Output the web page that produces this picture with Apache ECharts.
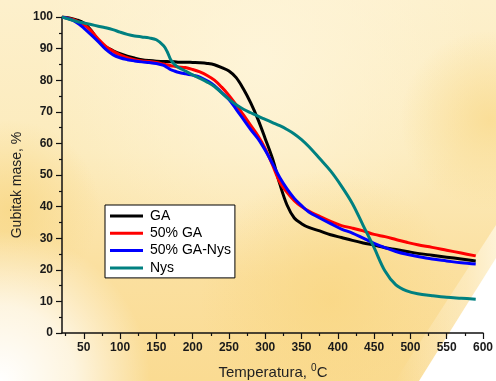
<!DOCTYPE html>
<html>
<head>
<meta charset="utf-8">
<style>
html,body{margin:0;padding:0;}
#c{width:496px;height:381px;}
</style>
<script src="https://cdn.jsdelivr.net/npm/echarts@6/dist/echarts.min.js"></script>
</head>
<body>
<div id="c"></div>
<script>
const temps = [20,30,40,50,60,70,80,90,100,110,120,130,140,150,160,165,170,175,180,190,200,210,220,230,240,250,260,270,280,290,300,310,320,330,340,350,360,375,390,405,420,435,450,465,480,495,510,530,550,570,590];
const seriesNames = ['GA', '50% GA', '50% GA-Nys', 'Nys'];
const massGA = [100,99.7,99.1,98.1,95.8,92.6,90.6,89.4,88.4,87.6,87.0,86.5,86.2,86.0,85.9,85.9,85.8,85.8,85.7,85.7,85.6,85.5,85.3,84.9,84.0,82.9,80.8,77.2,72.8,67.6,61.5,55.2,47.2,40.5,36.4,34.6,33.4,32.3,31.1,30.2,29.3,28.5,27.8,27.0,26.4,25.8,25.2,24.6,24.0,23.4,22.8];
const mass50GA = [100,99.5,98.8,97.6,95.6,93.0,90.8,89.2,88.0,87.1,86.5,86.1,85.9,85.6,85.1,84.9,84.6,84.4,84.2,84.0,83.4,82.6,81.5,80.0,77.8,75.2,72.2,69.0,65.7,62.4,58.3,53.2,47.8,44.5,41.9,40.0,38.6,36.9,35.3,34.0,33.2,32.3,31.2,30.5,29.6,28.7,27.9,27.1,26.2,25.3,24.4];
const mass50GANys = [100,99.4,98.3,96.5,94.4,92.2,89.8,88.1,87.1,86.5,86.1,85.8,85.6,85.3,84.7,84.0,83.3,82.9,82.5,82.0,81.6,81.0,79.8,78.3,76.1,73.9,70.8,67.6,64.4,61.5,57.8,53.6,49.2,45.6,42.6,40.3,38.3,36.4,34.6,32.9,31.6,30.0,28.4,27.0,25.8,24.9,24.2,23.4,22.8,22.2,21.8];
const massNys = [100,99.3,98.6,98.1,97.6,97.1,96.6,96.0,95.2,94.5,94.0,93.7,93.4,92.8,90.9,89.0,86.4,85.0,84.1,82.9,81.7,80.6,79.4,78.0,76.0,74.0,72.2,70.8,69.7,68.6,67.6,66.6,65.6,64.4,63.0,61.2,59.0,55.2,51.3,46.5,41.0,34.0,27.0,19.6,15.2,13.3,12.4,11.8,11.3,11.0,10.7];
const xMajorTicks = [50,100,150,200,250,300,350,400,450,500,550,600];
const xMinorTicks = [25,75,125,175,225,275,325,375,425,475,525,575];
const colors = ['#000000', '#ff0000', '#0000ff', '#008080'];

const massSets = [massGA, mass50GA, mass50GANys, massNys];
const font = 'Liberation Sans, Arial, sans-serif';

const chart = echarts.init(document.getElementById('c'), null, {renderer: 'canvas'});
chart.setOption({
  animation: false,
  backgroundColor: '#FBE6B0',
  graphic: [
    {type: 'rect', z: -100, silent: true, shape: {x: 0, y: 0, width: 496, height: 381},
     style: {fill: new echarts.graphic.LinearGradient(0, 0, 0, 1, [
       {offset: 0, color: '#FDF0CC'},
       {offset: 0.4, color: '#FCEBBC'},
       {offset: 0.7, color: '#FBE0A0'},
       {offset: 1, color: '#FADB92'}
     ])}},
    {type: 'circle', z: -99, silent: true, shape: {cx: 260, cy: 60, r: 220},
     style: {fill: new echarts.graphic.RadialGradient(0.5, 0.5, 0.5, [
       {offset: 0, color: 'rgba(254,245,218,0.9)'},
       {offset: 1, color: 'rgba(254,245,218,0)'}
     ])}},
    {type: 'circle', z: -99, silent: true, shape: {cx: 490, cy: 120, r: 90},
     style: {fill: new echarts.graphic.RadialGradient(0.5, 0.5, 0.5, [
       {offset: 0, color: 'rgba(249,216,135,0.7)'},
       {offset: 1, color: 'rgba(249,216,135,0)'}
     ])}},
    {type: 'circle', z: -99, silent: true, shape: {cx: 10, cy: 210, r: 90},
     style: {fill: new echarts.graphic.RadialGradient(0.5, 0.5, 0.5, [
       {offset: 0, color: 'rgba(248,214,130,0.75)'},
       {offset: 1, color: 'rgba(248,214,130,0)'}
     ])}},
    {type: 'circle', z: -99, silent: true, shape: {cx: 330, cy: 300, r: 130},
     style: {fill: new echarts.graphic.RadialGradient(0.5, 0.5, 0.5, [
       {offset: 0, color: 'rgba(249,214,128,0.7)'},
       {offset: 1, color: 'rgba(249,214,128,0)'}
     ])}},
    {type: 'circle', z: -98, silent: true, shape: {cx: 0, cy: 381, r: 150},
     style: {fill: new echarts.graphic.RadialGradient(0.5, 0.5, 0.5, [
       {offset: 0, color: 'rgba(255,255,255,1)'},
       {offset: 0.5, color: 'rgba(255,255,255,0.7)'},
       {offset: 1, color: 'rgba(255,255,255,0)'}
     ])}},
    {type: 'polygon', z: -97, silent: true, shape: {points: [[496, 225], [496, 381], [395, 381]]},
     style: {fill: new echarts.graphic.LinearGradient(0, 0, 1, 0, [
       {offset: 0, color: 'rgba(255,255,255,0)'},
       {offset: 0.7, color: 'rgba(255,248,230,0.4)'},
       {offset: 1, color: 'rgba(255,250,235,0.7)'}
     ])}},
    {type: 'polygon', z: -96, silent: true, shape: {points: [[496, 258], [496, 381], [419, 381]]},
     style: {fill: '#ffffff'}},
    {type: 'text', z: 10, style: {text: 'Gubitak mase, %', font: '14px ' + font, fill: '#222', textAlign: 'center', textVerticalAlign: 'middle'},
     x: 17, y: 185, rotation: Math.PI / 2},
    {type: 'text', z: 10, x: 273, y: 373,
     style: {text: 'Temperatura, {sup|0}C', font: '15px ' + font, fill: '#222', textAlign: 'center', textVerticalAlign: 'middle',
       rich: {sup: {fontSize: 10, fontFamily: font, fill: '#222', padding: [0, 0, 9, 0]}}}}
  ],
  grid: {left: 62, top: 17, right: 10, bottom: 48, containLabel: false},
  legend: {
    orient: 'vertical', left: 105, top: 205,
    padding: [4, 4, 3, 5], itemGap: 3.3, itemWidth: 33, itemHeight: 14,
    icon: 'path://M0,0H33V3H0Z',
    backgroundColor: '#ffffff', borderColor: '#000', borderWidth: 1, borderRadius: 0,
    textStyle: {fontSize: 14, fontFamily: font, color: '#000', padding: [0, 0, 0, 2]},
    data: seriesNames
  },
  xAxis: [
    {type: 'value', min: 20, max: 600,
     axisLine: {show: true, lineStyle: {color: '#111', width: 1.5}},
     axisTick: {show: true, customValues: xMajorTicks, length: 6, lineStyle: {color: '#111', width: 1.2}},
     axisLabel: {show: true, customValues: xMajorTicks, margin: 9, fontSize: 12, fontWeight: 'bold', fontFamily: font, color: '#1a1a1a'},
     splitLine: {show: false}},
    {type: 'value', min: 20, max: 600, position: 'bottom',
     axisLine: {show: false},
     axisTick: {show: true, customValues: xMinorTicks, length: 3, lineStyle: {color: '#111', width: 1.2}},
     axisLabel: {show: false},
     splitLine: {show: false}}
  ],
  yAxis: {
    type: 'value', min: 0, max: 100, interval: 10,
    axisLine: {show: true, lineStyle: {color: '#111', width: 1.5}},
    axisTick: {show: true, length: 6, lineStyle: {color: '#111', width: 1.2}},
    minorTick: {show: true, splitNumber: 2, length: 3, lineStyle: {color: '#111', width: 1.2}},
    axisLabel: {margin: 9, fontSize: 12, fontWeight: 'bold', fontFamily: font, color: '#1a1a1a'},
    splitLine: {show: false}
  },
  series: seriesNames.map((name, i) => ({
    name: name, type: 'line', xAxisIndex: 0, showSymbol: false, symbol: 'none',
    smooth: 0.35,
    lineStyle: {color: colors[i], width: 3},
    itemStyle: {color: colors[i]},
    data: temps.map((t, j) => [t, massSets[i][j]])
  }))
});
</script>
</body>
</html>
